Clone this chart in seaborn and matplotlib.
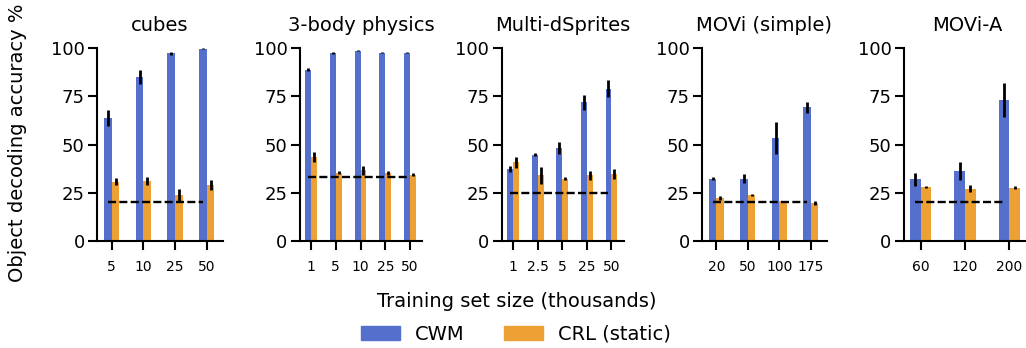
import matplotlib
matplotlib.use("Agg")
import matplotlib.pyplot as plt
import matplotlib.patches as mpatches
from matplotlib.container import BarContainer
import seaborn as sns
import pandas as pd
import numpy as np

# ---------------- data ----------------
titles = ["cubes", "3-body physics", "Multi-dSprites", "MOVi (simple)", "MOVi-A"]
sizes = [
    ["5", "10", "25", "50"],
    ["1", "5", "10", "25", "50"],
    ["1", "2.5", "5", "25", "50"],
    ["20", "50", "100", "175"],
    ["60", "120", "200"],
]
cwm_mean = [
    [64.0, 85.0, 97.4, 99.8],
    [88.8, 97.5, 98.8, 97.8, 97.8],
    [37.5, 44.8, 48.4, 71.9, 79.0],
    [32.3, 32.3, 53.3, 69.3],
    [32.0, 36.3, 73.2],
]
cwm_err = [
    [4.2, 3.6, 0.8, 0.3],
    [0.8, 0.4, 0.3, 0.2, 0.2],
    [1.6, 0.8, 3.2, 3.7, 4.5],
    [0.8, 2.3, 8.2, 3.0],
    [3.4, 4.5, 9.0],
]
crl_mean = [
    [30.8, 31.2, 24.0, 29.3],
    [43.5, 35.5, 36.6, 35.3, 34.5],
    [40.9, 34.0, 32.2, 34.0, 34.8],
    [22.5, 24.0, 20.5, 19.5],
    [28.1, 27.1, 27.6],
]
crl_err = [
    [1.9, 2.0, 3.2, 2.6],
    [2.6, 0.8, 2.4, 1.2, 1.0],
    [2.9, 4.4, 0.8, 2.5, 2.4],
    [1.0, 0.4, 0.3, 1.0],
    [0.6, 1.9, 0.8],
]
chance = [20.0, 33.3, 25.0, 20.0, 20.0]
models = ["CWM", "CRL (static)"]
colors = ["#5470CC", "#EDA135"]
yticks = [0, 25, 50, 75, 100]
xlabel = "Training set size (thousands)"
ylabel = "Object decoding accuracy %"

# ---------------- layout (pixels) ----------------
W, H = 1026, 348
ax_left = [97.3, 300.0, 501.7, 702.3, 904.0]
ax_spacing = [31.67, 24.75, 24.6, 31.5, 44.3]
ax_xmin = [-0.455, -0.445, -0.46, -0.445, -0.377]
ax_top, ax_bottom = 48.3, 241.0

sns.set_theme(style="ticks")
plt.rcParams["font.family"] = ["DejaVu Sans"]
plt.rcParams.update({
    "text.color": "black",
    "axes.labelcolor": "black",
    "xtick.color": "black",
    "ytick.color": "black",
    "xtick.labelcolor": "black",
    "ytick.labelcolor": "black",
    "axes.edgecolor": "black",
})

fig = plt.figure(figsize=(W / 100, H / 100), dpi=100)

for i in range(5):
    n = len(sizes[i])
    xmin, xmax = ax_xmin[i], n - 0.5
    width_px = (xmax - xmin) * ax_spacing[i]
    ax = fig.add_axes([ax_left[i] / W, 1 - ax_bottom / H,
                       width_px / W, (ax_bottom - ax_top) / H])
    df = pd.DataFrame({
        "size": sizes[i] * 2,
        "model": [models[0]] * n + [models[1]] * n,
        "acc": cwm_mean[i] + crl_mean[i],
    })
    sns.barplot(data=df, x="size", y="acc", hue="model", order=sizes[i],
                hue_order=models, palette=colors, saturation=1, width=0.48,
                errorbar=None, legend=False, ax=ax, linewidth=0, zorder=2)
    bar_conts = [c for c in ax.containers if isinstance(c, BarContainer)]
    errs = [cwm_err[i], crl_err[i]]
    means = [cwm_mean[i], crl_mean[i]]
    for k, cont in enumerate(bar_conts):
        xs = [p.get_x() + p.get_width() / 2 for p in cont.patches]
        ax.errorbar(xs, means[k], yerr=errs[k], fmt="none", ecolor="black",
                    elinewidth=2.0, capsize=0, zorder=4)
    c0 = bar_conts[0].patches
    x0 = c0[0].get_x() + c0[0].get_width() / 2
    x1 = c0[-1].get_x() + c0[-1].get_width() / 2
    ax.plot([x0, x1], [chance[i], chance[i]], color="black", lw=1.7,
            dashes=(3.4, 1.4), zorder=3)
    ax.set_xlim(xmin, xmax)
    ax.set_ylim(0, 100)
    ax.set_yticks(yticks)
    ax.set_yticklabels([str(t) for t in yticks], fontsize=13, color="black")
    ax.set_xticks(range(n))
    ax.set_xticklabels(sizes[i], fontsize=10, color="black")
    ax.tick_params(axis="x", length=6.5, width=1.5, pad=7.5, color="black")
    ax.tick_params(axis="y", length=6.5, width=1.5, pad=2.5, color="black")
    ax.set_xlabel("")
    ax.set_ylabel("")
    ax.set_title(titles[i], fontsize=14, pad=12.5, color="black")
    for s in ["top", "right"]:
        ax.spines[s].set_visible(False)
    for s in ["left", "bottom"]:
        ax.spines[s].set_linewidth(1.5)
        ax.spines[s].set_color("black")

fig.text(17.5 / W, 1 - 143 / H, ylabel, rotation=90, ha="center", va="center",
         fontsize=14, color="black")
fig.text(516.5 / W, 1 - 301.5 / H, xlabel, ha="center", va="center",
         fontsize=14, color="black")
handles = [mpatches.Patch(color=colors[j], label=models[j]) for j in range(2)]
leg = fig.legend(handles=handles, loc="center", ncol=2, frameon=False,
                 fontsize=14, bbox_to_anchor=(516 / W, 1 - 334 / H))
for t in leg.get_texts():
    t.set_color("black")

fig.savefig("out.png", dpi=100)
